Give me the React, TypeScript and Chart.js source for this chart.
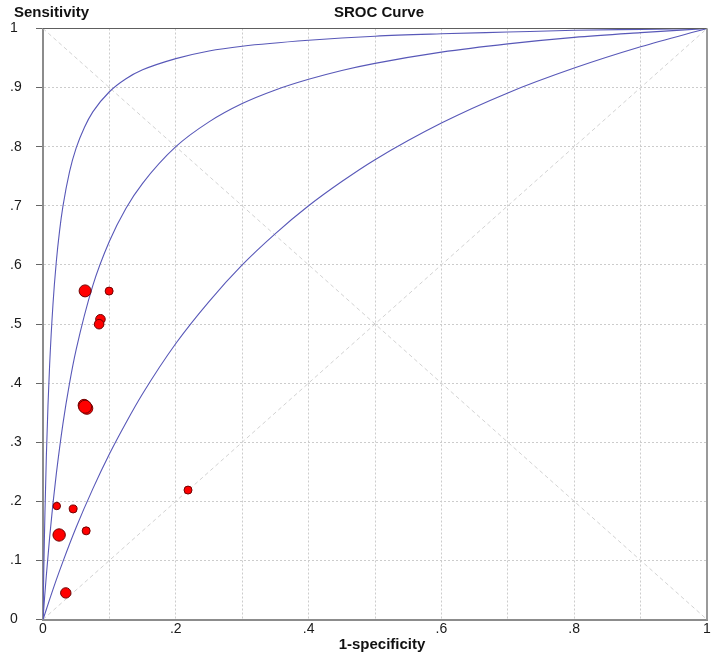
import React, { useEffect, useRef } from 'react';
import { Chart, registerables } from 'chart.js';

Chart.register(...registerables);

// Study points (1-specificity, sensitivity, marker radius)
const studyFpr = [0.0634, 0.0996, 0.0865, 0.0845, 0.0619, 0.066, 0.0634, 0.0208, 0.0454, 0.0243, 0.065, 0.0343, 0.2184];
const studySens = [0.556, 0.5557, 0.508, 0.4997, 0.3624, 0.3573, 0.36, 0.192, 0.187, 0.143, 0.15, 0.045, 0.219];
const studySize = [6, 4, 4.8, 4.8, 6, 6, 6.5, 3.7, 4, 6.2, 4, 5.2, 4];

// SROC curves
const innerFpr = [0, 0.001, 0.002, 0.003, 0.005, 0.0075, 0.01, 0.015, 0.02, 0.025, 0.03, 0.04, 0.05, 0.0625, 0.075, 0.1, 0.125, 0.15, 0.2, 0.25, 0.3, 0.4, 0.5, 0.6, 0.7, 0.8, 0.9, 1];
const innerSens = [0, 0.07, 0.131, 0.184, 0.274, 0.362, 0.431, 0.533, 0.605, 0.658, 0.699, 0.758, 0.798, 0.833, 0.859, 0.893, 0.915, 0.93, 0.949, 0.962, 0.97, 0.98, 0.987, 0.991, 0.994, 0.997, 0.9985, 1];

const middleFpr = [0, 0.0025, 0.005, 0.01, 0.015, 0.02, 0.03, 0.04, 0.05, 0.075, 0.1, 0.125, 0.15, 0.2, 0.25, 0.3, 0.35, 0.4, 0.45, 0.5, 0.6, 0.7, 0.8, 0.9, 1];
const middleSens = [0, 0.039, 0.074, 0.139, 0.196, 0.246, 0.331, 0.4, 0.457, 0.565, 0.64, 0.696, 0.738, 0.8, 0.842, 0.873, 0.896, 0.914, 0.929, 0.941, 0.96, 0.974, 0.985, 0.993, 1];

const outerFpr = [0, 0.005, 0.01, 0.02, 0.03, 0.05, 0.075, 0.1, 0.125, 0.15, 0.2, 0.25, 0.3, 0.35, 0.4, 0.45, 0.5, 0.6, 0.7, 0.8, 0.9, 1];
const outerSens = [0, 0.017, 0.034, 0.067, 0.098, 0.156, 0.221, 0.28, 0.333, 0.382, 0.467, 0.538, 0.6, 0.653, 0.7, 0.741, 0.778, 0.84, 0.891, 0.933, 0.969, 1];

// Reference diagonals
const diagUpX = [0, 1];
const diagUpY = [0, 1];
const diagDownX = [0, 1];
const diagDownY = [1, 0];

const xTickLabels = ['0', '', '.2', '', '.4', '', '.6', '', '.8', '', '1'];
const yTickLabels = ['0', '.1', '.2', '.3', '.4', '.5', '.6', '.7', '.8', '.9', '1'];

const titleText = 'SROC Curve';
const yAxisText = 'Sensitivity';
const xAxisText = '1-specificity';

const FONT = '"Liberation Sans", Arial, Helvetica, sans-serif';
const CURVE_COLOR = '#5858b8';

const zip = (xs: number[], ys: number[]) => xs.map((x, i) => ({ x, y: ys[i] }));

const decorPlugin = {
  id: 'decor',
  afterDatasetsDraw(chart: any) {
    const { ctx, chartArea } = chart;
    ctx.save();
    ctx.strokeStyle = '#5e5e5e';
    ctx.lineWidth = 1;
    ctx.beginPath();
    ctx.moveTo(chartArea.left, chartArea.top);
    ctx.lineTo(chartArea.right, chartArea.top);
    ctx.stroke();
    ctx.strokeStyle = '#9a9a9a';
    ctx.lineWidth = 2;
    ctx.beginPath();
    ctx.moveTo(chartArea.right, chartArea.top);
    ctx.lineTo(chartArea.right, chartArea.bottom);
    ctx.stroke();
    ctx.restore();
  },
  afterDraw(chart: any) {
    const { ctx } = chart;
    ctx.save();
    ctx.fillStyle = '#111';
    ctx.font = `bold 15px ${FONT}`;
    ctx.textBaseline = 'alphabetic';
    ctx.textAlign = 'left';
    ctx.fillText(yAxisText, 14, 17);
    ctx.textAlign = 'center';
    ctx.fillText(titleText, 379, 17);
    ctx.fillText(xAxisText, 382, 649);
    ctx.restore();
  },
};

export default function App() {
  const ref = useRef<HTMLCanvasElement | null>(null);

  useEffect(() => {
    if (!ref.current) return;
    const curveBase = {
      showLine: true,
      pointRadius: 0,
      borderColor: CURVE_COLOR,
      borderWidth: 1.1,
      cubicInterpolationMode: 'monotone' as const,
      fill: false,
    };
    const diagBase = {
      showLine: true,
      pointRadius: 0,
      borderColor: '#d2d2d2',
      borderWidth: 1,
      borderDash: [4, 3],
      fill: false,
    };
    const chart = new Chart(ref.current, {
      type: 'scatter',
      data: {
        datasets: [
          { ...diagBase, data: zip(diagUpX, diagUpY), order: 5 },
          { ...diagBase, data: zip(diagDownX, diagDownY), order: 5 },
          { ...curveBase, data: zip(innerFpr, innerSens), order: 3 },
          { ...curveBase, data: zip(middleFpr, middleSens), order: 3 },
          { ...curveBase, data: zip(outerFpr, outerSens), order: 3 },
          {
            data: zip(studyFpr, studySens),
            pointRadius: studySize,
            backgroundColor: '#ff0000',
            borderColor: '#700000',
            borderWidth: 1,
            showLine: false,
            order: 1,
          },
        ],
      } as any,
      options: {
        responsive: false,
        animation: false,
        devicePixelRatio: 1,
        layout: { padding: { left: 10, right: 13, top: 28.5, bottom: 0 } },
        plugins: {
          legend: { display: false },
          tooltip: { enabled: false },
          title: { display: false },
        },
        scales: {
          x: {
            type: 'linear',
            position: 'bottom',
            min: 0,
            max: 1,
            afterFit: (s: any) => {
              s.height = 37.5;
            },
            ticks: {
              stepSize: 0.1,
              autoSkip: false,
              maxRotation: 0,
              padding: 1,
              color: '#1a1a1a',
              font: { family: FONT, size: 14 },
              callback: (_v: any, i: number) => xTickLabels[i],
            },
            grid: { color: '#cccccc', lineWidth: 1, drawTicks: false },
            border: { display: true, color: '#8c8c8c', width: 2, dash: [2, 2] },
          },
          y: {
            type: 'linear',
            min: 0,
            max: 1,
            afterFit: (s: any) => {
              s.width = 33;
            },
            ticks: {
              stepSize: 0.1,
              autoSkip: false,
              crossAlign: 'far',
              padding: 4,
              color: '#1a1a1a',
              font: { family: FONT, size: 14 },
              callback: (_v: any, i: number) => yTickLabels[i],
            },
            grid: { color: '#cccccc', lineWidth: 1, tickLength: 7, tickColor: '#666666', tickWidth: 1 },
            border: { display: true, color: '#8c8c8c', width: 2, dash: [2, 2] },
          },
        },
      } as any,
      plugins: [decorPlugin],
    });
    return () => chart.destroy();
  }, []);

  return (
    <div style={{ position: 'absolute', left: 0, top: 0, width: 720, height: 657, background: '#fff' }}>
      <canvas ref={ref} width={720} height={657} style={{ display: 'block' }} />
    </div>
  );
}
